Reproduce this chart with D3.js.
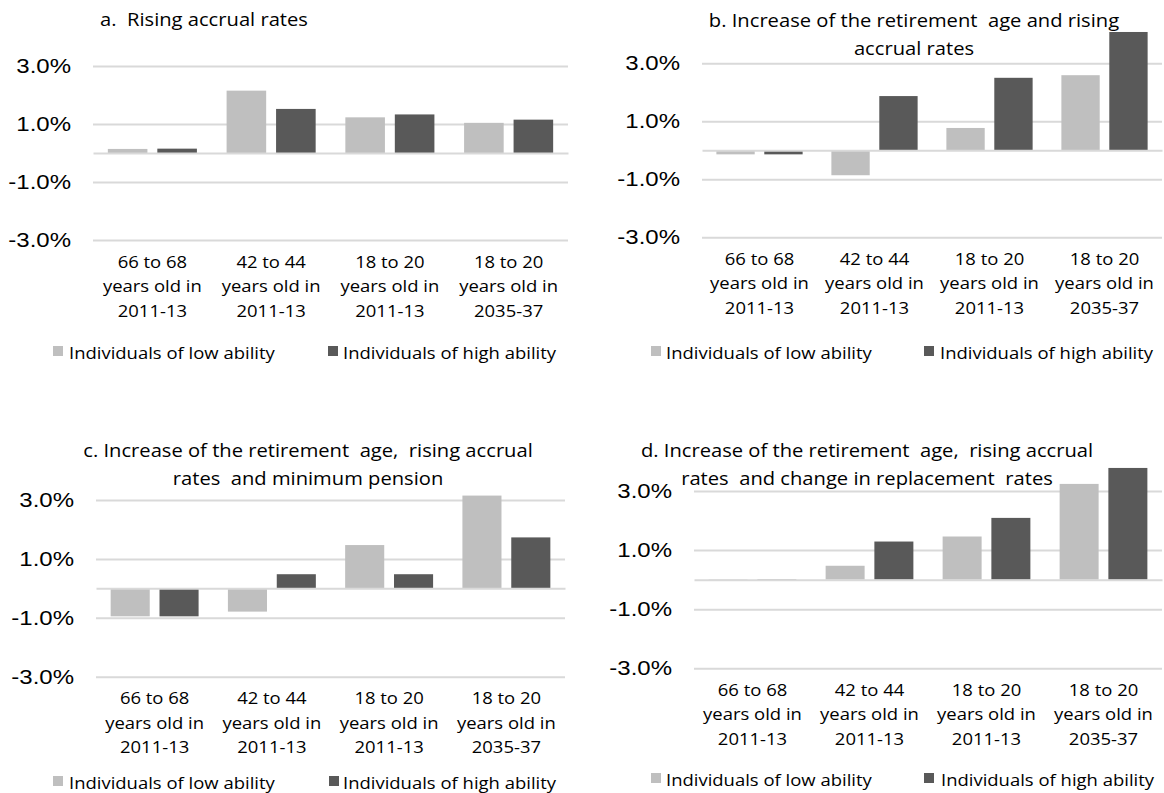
<!DOCTYPE html>
<html>
<head>
<meta charset="utf-8">
<script src="https://cdnjs.cloudflare.com/ajax/libs/d3/7.8.5/d3.min.js"></script>
<style>
  body { margin: 0; background: #fff; }
  svg { display: block; }
</style>
</head>
<body>
<div id="chart"></div>
<script>
// Data
const categories = [
  ["66 to 68", "years old in", "2011-13"],
  ["42 to 44", "years old in", "2011-13"],
  ["18 to 20", "years old in", "2011-13"],
  ["18 to 20", "years old in", "2035-37"]
]
const seriesNames = ["Individuals of low ability", "Individuals of high ability"]
const yTicks = [-3, -1, 1, 3]

const titleA = ["a.  Rising accrual rates"]
const titleB = ["b. Increase of the retirement  age and rising", "accrual rates"]
const titleC = ["c. Increase of the retirement  age,  rising accrual", "rates  and minimum pension"]
const titleD = ["d. Increase of the retirement  age,  rising accrual", "rates  and change in replacement  rates"]

const lowA  = [0.14, 2.15, 1.23, 1.04]
const highA = [0.15, 1.52, 1.33, 1.15]
const lowB  = [-0.14, -0.86, 0.77, 2.59]
const highB = [-0.14, 1.87, 2.50, 4.08]
const lowC  = [-0.95, -0.79, 1.47, 3.15]
const highC = [-0.95, 0.48, 0.48, 1.73]
const lowD  = [-0.02, 0.47, 1.46, 3.24]
const highD = [-0.04, 1.29, 2.09, 3.78]

// Layout
const W = 1164, H = 793
const colors = ["#bfbfbf", "#595959"]
const textFont = "'Open Sans', sans-serif"
const numFont = "'Liberation Sans', Arial, sans-serif"
const sx = 1.12

const panels = [
  {title: titleA, low: lowA, high: highA, left: 93, right: 568, yBot: 240, yTop: 66,
   titleX: 204, titleY: 26, legY: 359, legX: [53, 69, 328, 343]},
  {title: titleB, low: lowB, high: highB, left: 702, right: 1162, yBot: 237.3, yTop: 63.3,
   titleX: 914, titleY: 26.7, legY: 359, legX: [651, 666, 924, 940]},
  {title: titleC, low: lowC, high: highC, left: 96, right: 565, yBot: 676.7, yTop: 500,
   titleX: 308, titleY: 456.7, legY: 789, legX: [53, 69, 329, 343]},
  {title: titleD, low: lowD, high: highD, left: 694, right: 1162, yBot: 668.3, yTop: 491,
   titleX: 867, titleY: 457, legY: 786, legX: [651, 666, 924, 941]}
]

const svg = d3.select("#chart").append("svg")
  .attr("width", W)
  .attr("height", H)

function txt(g, x, y, s, size, anchor, family, scaleX) {
  return g.append("text")
    .attr("transform", `translate(${x},${y}) scale(${scaleX},1)`)
    .attr("text-anchor", anchor)
    .style("font-family", family)
    .style("font-size", size + "px")
    .style("white-space", "pre")
    .attr("fill", "#000")
    .text(s)
}

panels.forEach(p => {
  const g = svg.append("g")

  const y = d3.scaleLinear()
    .domain([-3, 3])
    .range([p.yBot, p.yTop])

  const x0 = d3.scaleBand()
    .domain(d3.range(categories.length))
    .range([p.left, p.right])
    .paddingInner(0.25)
    .paddingOuter(0.125)

  const x1 = d3.scaleBand()
    .domain([0, 1])
    .range([0, x0.bandwidth()])
    .paddingInner(0.2)

  // gridlines + tick labels
  const yAxis = g.append("g")
    .attr("transform", `translate(${p.left},0)`)
    .call(d3.axisLeft(y).tickValues(yTicks).tickSize(-(p.right - p.left))
      .tickFormat(d => d.toFixed(1) + "%"))
  yAxis.select(".domain").remove()
  yAxis.selectAll(".tick line").attr("stroke", "#d9d9d9").attr("stroke-width", 2)
  yAxis.selectAll(".tick text")
    .attr("x", 0)
    .attr("transform", "translate(-22,0) scale(1.2,1)")
    .attr("fill", "#000")
    .style("font-family", numFont)
    .style("font-size", "20px")

  // bars
  const rows = categories.map((c, i) => [p.low[i], p.high[i]])
  g.append("g").selectAll("g")
    .data(rows)
    .enter()
    .append("g")
    .attr("transform", (d, i) => `translate(${x0(i)},0)`)
    .selectAll("rect")
    .data(d => d)
    .enter()
    .append("rect")
    .attr("x", (d, j) => x1(j))
    .attr("width", x1.bandwidth())
    .attr("y", d => y(Math.max(0, d)))
    .attr("height", d => Math.abs(y(d) - y(0)))
    .attr("fill", (d, j) => colors[j])

  // zero axis line
  const xAxis = g.append("g")
    .attr("transform", `translate(0,${y(0)})`)
    .call(d3.axisBottom(x0).tickSize(0).tickFormat(""))
  xAxis.select(".domain").attr("stroke", "#d9d9d9").attr("stroke-width", 2)

  // category labels
  categories.forEach((lines, i) => {
    const cx = x0(i) + x0.bandwidth() / 2
    lines.forEach((s, k) => {
      txt(g, cx, p.yBot + 27.5 + k * 24.5, s, 16.5, "middle", textFont, sx)
    })
  })

  // title
  p.title.forEach((s, k) => {
    txt(g, p.titleX, p.titleY + k * 28, s, 18, "middle", textFont, sx)
  })

  // legend
  seriesNames.forEach((s, j) => {
    g.append("rect")
      .attr("x", p.legX[j * 2])
      .attr("y", p.legY - 13)
      .attr("width", 10)
      .attr("height", 10)
      .attr("fill", colors[j])
    txt(g, p.legX[j * 2 + 1], p.legY, s, 16.5, "start", textFont, sx)
  })
})
</script>
</body>
</html>
